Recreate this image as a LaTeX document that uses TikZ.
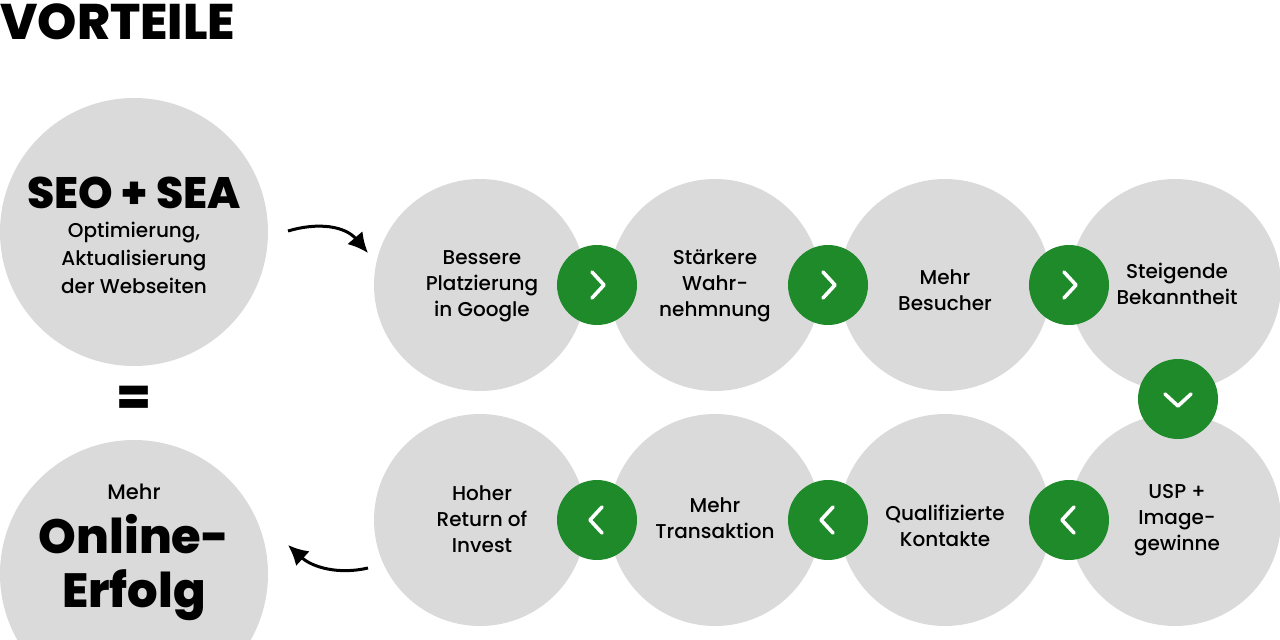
\documentclass[tikz,border=0pt]{standalone}
\usepackage{fontspec}
\setmainfont{Poppins}[UprightFont=* Medium,BoldFont=* ExtraBold]
\usetikzlibrary{arrows.meta}
\definecolor{grey}{HTML}{DADADA}
\definecolor{grn}{HTML}{1E8A2A}
\begin{document}
\begin{tikzpicture}[x=1pt,y=-1pt,
  big/.style={circle,fill=grey,minimum size=268pt,inner sep=0},
  stp/.style={circle,fill=grey,minimum size=212pt,inner sep=0},
  gb/.style={circle,fill=grn,minimum size=80pt,inner sep=0},
  chev/.style={white,line width=3.6pt,line cap=round,line join=round},
  arr/.style={line width=3pt,-{Latex[length=20pt,width=20pt]}},
  lab/.style={align=center,font=\fontsize{20}{26}\selectfont}]
\useasboundingbox (0,0) rectangle (1280,640);
\begin{scope}
\clip (0,0) rectangle (1280,640);
\node[big] (a) at (134,232) {};
\node[big] (b) at (134,574) {};
\foreach \n/\x/\y in {s1/480/285,s2/715/285,s3/945/285,s4/1175/285,t4/1175/520,t3/945/520,t2/715/520,t1/480/520}
  \node[stp] (\n) at (\x,\y) {};
\end{scope}
\node[font=\fontsize{50}{54}\selectfont\bfseries,anchor=west] (title) at (-3,22) {VORTEILE};
\node[font=\fontsize{44}{48}\selectfont\bfseries] (at1) at (134,193) {SEO + SEA};
\node[align=center,font=\fontsize{20}{28}\selectfont] (at2) at (134,258) {Optimierung,\\Aktualisierung\\der Webseiten};
\node[font=\fontsize{50}{50}\selectfont\bfseries] (eq) at (134,400) {=};
\node[font=\fontsize{21}{26}\selectfont] (bt1) at (134,492) {Mehr};
\node[align=center,font=\fontsize{48}{54}\selectfont\bfseries] (bt2) at (134,568) {Online-\\Erfolg};
\node[lab] (l1) at (482,286) {Bessere\\Platzierung\\in Google};
\node[lab] (l2) at (715,286) {Stärkere\\Wahr-\\nehmnung};
\node[lab] (l3) at (945,290) {Mehr\\Besucher};
\node[lab] (l4) at (1177,284) {Steigende\\Bekanntheit};
\node[lab] (l5) at (1177,520) {USP +\\Image-\\gewinne};
\node[lab] (l6) at (945,526) {Qualifizierte\\Kontakte};
\node[lab] (l7) at (715,518) {Mehr\\Transaktion};
\node[lab] (l8) at (482,519) {Hoher\\Return of\\Invest};
\foreach \n/\x/\y in {g1/597/285,g2/828/285,g3/1069/285,g5/1069/520,g6/828/520,g7/597/520}
  \node[gb] (\n) at (\x,\y) {};
\node[gb] (g4) at (1178,399) {};
\foreach \n in {g1,g2,g3} \draw[chev] ([shift={(-5,-13)}]\n.center) -- ([shift={(7,0)}]\n.center) -- ([shift={(-5,13)}]\n.center);
\foreach \n in {g5,g6,g7} \draw[chev] ([shift={(5,-13)}]\n.center) -- ([shift={(-7,0)}]\n.center) -- ([shift={(5,13)}]\n.center);
\draw[chev] ([shift={(-13,-5)}]g4.center) -- ([shift={(0,7)}]g4.center) -- ([shift={(13,-5)}]g4.center);
\coordinate (p1) at (288,231); \coordinate (p2) at (368,253);
\draw[arr] (p1) .. controls (318,222) and (345,226) .. (p2);
\coordinate (q1) at (368,568); \coordinate (q2) at (288,545);
\draw[arr] (q1) .. controls (338,575) and (312,567) .. (q2);
\end{tikzpicture}
\end{document}
